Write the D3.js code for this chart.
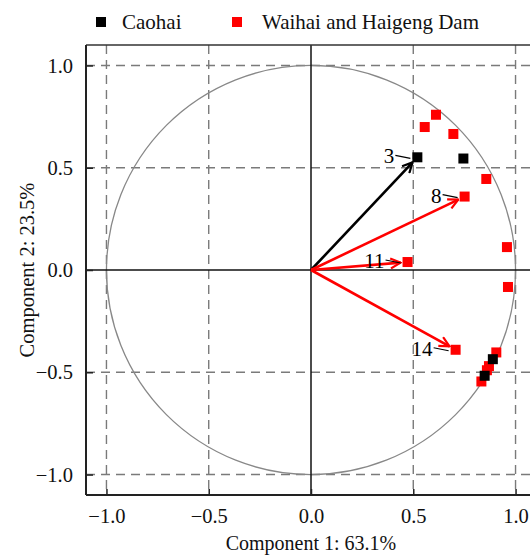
<!DOCTYPE html>
<html><head><meta charset="utf-8">
<script src="https://cdn.jsdelivr.net/npm/d3@7"></script>
<style>body{margin:0;background:#fff;} svg{display:block;}</style>
</head><body>
<svg id="chart" width="530" height="556"></svg>
<script>
const seriesNames = ["Caohai", "Waihai and Haigeng Dam"];
const seriesColors = ["#000000", "#ff0000"];
const caohaiX = [0.520, 0.745, 0.889, 0.849];
const caohaiY = [0.551, 0.545, -0.436, -0.517];
const waihaiX = [0.611, 0.556, 0.696, 0.857, 0.751, 0.958, 0.472, 0.963, 0.707, 0.906, 0.870, 0.860, 0.833];
const waihaiY = [0.759, 0.699, 0.665, 0.445, 0.359, 0.112, 0.039, -0.083, -0.390, -0.403, -0.470, -0.490, -0.545];
const vectorLabels = ["3", "8", "11", "14"];
const vectorX = [0.520, 0.751, 0.472, 0.707];
const vectorY = [0.551, 0.359, 0.039, -0.390];
const vectorSeries = [0, 1, 1, 1];
const tickValues = [-1.0, -0.5, 0.0, 0.5, 1.0];
const xTitle = "Component 1: 63.1%";
const yTitle = "Component 2: 23.5%";

const svg = d3.select("#chart");
const font = "'Liberation Serif','Times New Roman',serif";
const L = 86, T = 45, S = 450;
const x = d3.scaleLinear().domain([-1.1, 1.1]).range([L, L + S]);
const y = d3.scaleLinear().domain([-1.1, 1.1]).range([T + S, T]);

const defs = svg.append("defs");
defs.append("clipPath").attr("id", "clip").append("rect").attr("x", L).attr("y", T).attr("width", S).attr("height", S);
seriesColors.forEach((c, i) => {
  defs.append("marker").attr("id", "arr" + i).attr("viewBox", "0 0 12 12")
    .attr("refX", 11).attr("refY", 6).attr("markerWidth", 12).attr("markerHeight", 12)
    .attr("markerUnits", "userSpaceOnUse").attr("orient", "auto")
    .append("path").attr("d", "M1,1 L11,6 L1,11").attr("fill", "none").attr("stroke", c).attr("stroke-width", 2.2);
});

const g = svg.append("g").attr("clip-path", "url(#clip)");
// grid
[-1, -0.5, 0.5, 1].forEach(v => {
  g.append("line").attr("x1", x(v)).attr("x2", x(v)).attr("y1", T).attr("y2", T + S)
    .attr("stroke", "#7a7a7a").attr("stroke-width", 1.4).attr("stroke-dasharray", "9,6");
  g.append("line").attr("y1", y(v)).attr("y2", y(v)).attr("x1", L).attr("x2", L + S)
    .attr("stroke", "#7a7a7a").attr("stroke-width", 1.4).attr("stroke-dasharray", "9,6");
});
// unit circle
g.append("circle").attr("cx", x(0)).attr("cy", y(0)).attr("r", x(1) - x(0))
  .attr("fill", "none").attr("stroke", "#888").attr("stroke-width", 1.3);
// zero lines
g.append("line").attr("x1", x(0)).attr("x2", x(0)).attr("y1", T).attr("y2", T + S).attr("stroke", "#111").attr("stroke-width", 1.5);
g.append("line").attr("y1", y(0)).attr("y2", y(0)).attr("x1", L).attr("x2", L + S).attr("stroke", "#111").attr("stroke-width", 1.5);

// arrows
vectorX.forEach((vx, i) => {
  const x0 = x(0), y0 = y(0), x1 = x(vx), y1 = y(vectorY[i]);
  const len = Math.hypot(x1 - x0, y1 - y0);
  const k = (len - 7) / len;
  g.append("line").attr("x1", x0).attr("y1", y0)
    .attr("x2", x0 + (x1 - x0) * k).attr("y2", y0 + (y1 - y0) * k)
    .attr("stroke", seriesColors[vectorSeries[i]]).attr("stroke-width", 2.6)
    .attr("marker-end", "url(#arr" + vectorSeries[i] + ")");
});

// points
const sq = 10;
function drawPts(xs, ys, color) {
  g.selectAll(null).data(xs.map((v, i) => [v, ys[i]])).enter().append("rect")
    .attr("x", d => x(d[0]) - sq / 2).attr("y", d => y(d[1]) - sq / 2)
    .attr("width", sq).attr("height", sq).attr("fill", color);
}
drawPts(waihaiX, waihaiY, seriesColors[1]);
drawPts(caohaiX, caohaiY, seriesColors[0]);

// labels with leaders
vectorLabels.forEach((lab, i) => {
  const px = x(vectorX[i]), py = y(vectorY[i]);
  g.append("text").attr("x", px - 23).attr("y", py + 6).attr("text-anchor", "end")
    .attr("font-family", font).attr("font-size", 21).attr("fill", "#000").text(lab);
  g.append("line").attr("x1", px - 22).attr("y1", py - 2).attr("x2", px - 7).attr("y2", py + 1)
    .attr("stroke", "#000").attr("stroke-width", 1.2);
});

// frame
svg.append("line").attr("x1", L).attr("x2", 530).attr("y1", T).attr("y2", T).attr("stroke", "#333").attr("stroke-width", 1.5);
svg.append("line").attr("x1", L).attr("x2", 530).attr("y1", T + S).attr("y2", T + S).attr("stroke", "#222").attr("stroke-width", 2);
svg.append("line").attr("x1", L).attr("x2", L).attr("y1", T).attr("y2", T + S).attr("stroke", "#222").attr("stroke-width", 2);

// axes
const fmt = d => (d < 0 ? "\u2212" : "") + Math.abs(d).toFixed(1);
const xa = svg.append("g").attr("transform", `translate(0,${T + S})`)
  .call(d3.axisBottom(x).tickValues(tickValues).tickFormat(fmt).tickSizeInner(-6).tickSizeOuter(0).tickPadding(13));
const ya = svg.append("g").attr("transform", `translate(${L},0)`)
  .call(d3.axisLeft(y).tickValues(tickValues).tickFormat(fmt).tickSizeInner(-7).tickSizeOuter(0).tickPadding(13));
[xa, ya].forEach(a => {
  a.select(".domain").remove();
  a.selectAll(".tick line").attr("stroke", "#222").attr("stroke-width", 1.5);
  a.selectAll(".tick text").attr("font-family", font).attr("font-size", 20.5).attr("fill", "#111");
});

// titles
svg.append("text").attr("x", x(0)).attr("y", 550).attr("text-anchor", "middle")
  .attr("font-family", font).attr("font-size", 20).attr("fill", "#111").text(xTitle);
svg.append("text").attr("transform", `translate(34,${y(0)}) rotate(-90)`).attr("text-anchor", "middle")
  .attr("font-family", font).attr("font-size", 20.5).attr("fill", "#111").text(yTitle);

// legend
const legX = [96, 232], legT = [122, 262];
seriesNames.forEach((n, i) => {
  svg.append("rect").attr("x", legX[i]).attr("y", 17).attr("width", 10).attr("height", 10).attr("fill", seriesColors[i]);
  svg.append("text").attr("x", legT[i]).attr("y", 29).attr("font-family", font).attr("font-size", 21).attr("fill", "#111").text(n);
});
</script>
</body></html>
